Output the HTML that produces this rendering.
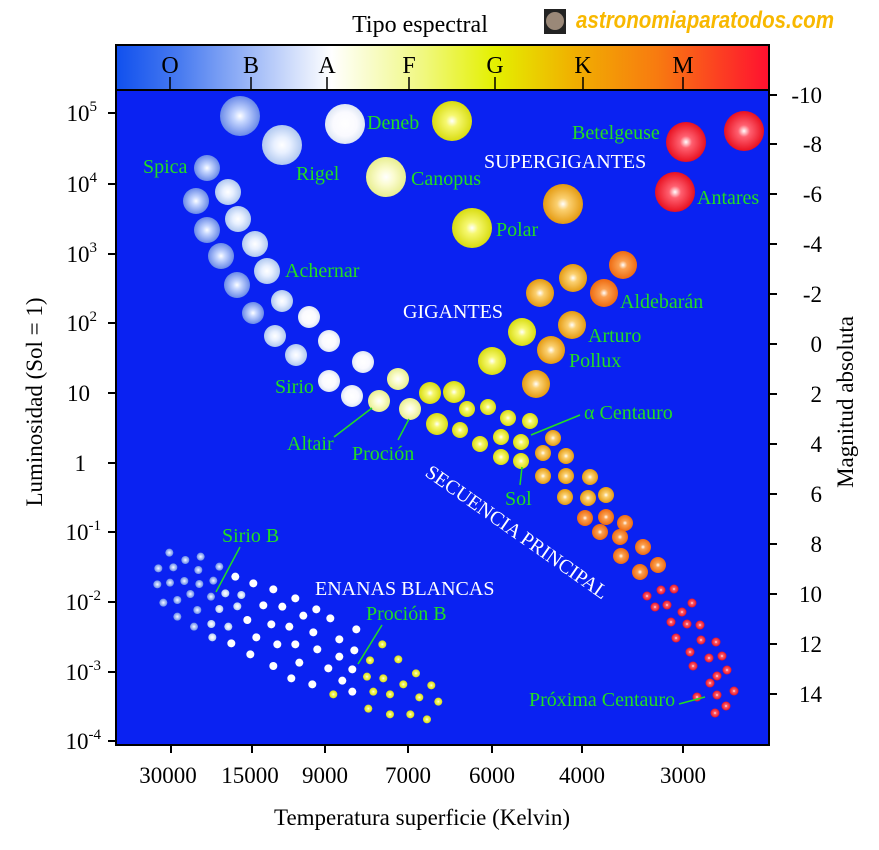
<!DOCTYPE html>
<html><head><meta charset="utf-8"><style>
body{margin:0;background:#fff;}
svg{display:block;font-family:"Liberation Serif",serif;}
.g{fill:#22dd22;font-size:20px;}
.w{fill:#fff;font-size:20px;}
.t{fill:#000;}
</style></head><body>
<svg width="879" height="850" viewBox="0 0 879 850" xmlns="http://www.w3.org/2000/svg">
<defs>
<linearGradient id="spec" x1="0" x2="1" y1="0" y2="0">
<stop offset="0" stop-color="#1050ee"/><stop offset="0.1" stop-color="#4a7cf0"/>
<stop offset="0.33" stop-color="#ffffff"/><stop offset="0.47" stop-color="#f0f880"/>
<stop offset="0.58" stop-color="#e4f000"/><stop offset="0.7" stop-color="#f0b000"/>
<stop offset="0.83" stop-color="#f87a10"/><stop offset="1" stop-color="#ff1030"/>
</linearGradient>
<radialGradient id="b" cx="0.5" cy="0.5" r="0.5"><stop offset="0" stop-color="#fff"/><stop offset="0.3" stop-color="#c8d8ff"/><stop offset="1" stop-color="#6a8ae8"/></radialGradient>
<radialGradient id="bw" cx="0.5" cy="0.5" r="0.5"><stop offset="0" stop-color="#fff"/><stop offset="0.4" stop-color="#e8f0ff"/><stop offset="1" stop-color="#b0c8f0"/></radialGradient>
<radialGradient id="w" cx="0.5" cy="0.5" r="0.5"><stop offset="0" stop-color="#fff"/><stop offset="0.6" stop-color="#fafaff"/><stop offset="1" stop-color="#dde6f4"/></radialGradient>
<radialGradient id="py" cx="0.5" cy="0.5" r="0.5"><stop offset="0" stop-color="#fff"/><stop offset="0.4" stop-color="#fbfcd0"/><stop offset="1" stop-color="#e8ee90"/></radialGradient>
<radialGradient id="y" cx="0.5" cy="0.5" r="0.5"><stop offset="0" stop-color="#fff"/><stop offset="0.3" stop-color="#f6f870"/><stop offset="1" stop-color="#d8dc10"/></radialGradient>
<radialGradient id="o" cx="0.5" cy="0.5" r="0.5"><stop offset="0" stop-color="#fff"/><stop offset="0.3" stop-color="#fbd070"/><stop offset="1" stop-color="#e49a10"/></radialGradient>
<radialGradient id="or" cx="0.5" cy="0.5" r="0.5"><stop offset="0" stop-color="#fff"/><stop offset="0.3" stop-color="#fba050"/><stop offset="1" stop-color="#ee6a10"/></radialGradient>
<radialGradient id="r" cx="0.5" cy="0.5" r="0.5"><stop offset="0" stop-color="#fff"/><stop offset="0.3" stop-color="#ff6070"/><stop offset="1" stop-color="#e81020"/></radialGradient>
</defs>
<text x="420" y="32" class="t" text-anchor="middle" font-size="24">Tipo espectral</text>
<rect x="544" y="9" width="22" height="25" fill="#222"/><circle cx="555" cy="21" r="9" fill="#9a8878"/>
<text x="576" y="28" fill="#f8b800" font-size="24" font-style="italic" font-weight="bold" font-family="Liberation Sans,sans-serif" textLength="258" lengthAdjust="spacingAndGlyphs">astronomiaparatodos.com</text>
<rect x="116" y="45" width="653" height="45" fill="url(#spec)" stroke="#000" stroke-width="2"/>
<g class="t" text-anchor="middle" font-size="24">
<text x="170" y="73">O</text><text x="251" y="73">B</text><text x="327" y="73">A</text><text x="409" y="73">F</text><text x="495" y="73">G</text><text x="583" y="73">K</text><text x="683" y="73">M</text></g>
<g stroke="#000" stroke-width="1.5"><path d="M170 90v-13M251 90v-13M327 90v-13M409 90v-13M495 90v-13M583 90v-13M683 90v-13"/></g>
<rect x="116" y="90" width="653" height="655" fill="#0a22f2" stroke="#000" stroke-width="2"/>
<g stroke="#000" stroke-width="2">
<path d="M108 113h8M108 184h8M108 254h8M108 323h8M108 393h8M108 463h8M108 532h8M108 602h8M108 672h8M108 741h8"/>
<path d="M769 95h8M769 144h8M769 194h8M769 244h8M769 294h8M769 344h8M769 394h8M769 444h8M769 494h8M769 544h8M769 594h8M769 644h8M769 694h8"/>
<path d="M171 745v8M252 745v8M325 745v8M408 745v8M492 745v8M582 745v8M683 745v8"/>
</g>
<g class="t" font-size="23" text-anchor="end">
<text x="97" y="121">10<tspan dy="-10" font-size="15">5</tspan></text>
<text x="97" y="192">10<tspan dy="-10" font-size="15">4</tspan></text>
<text x="97" y="262">10<tspan dy="-10" font-size="15">3</tspan></text>
<text x="97" y="331">10<tspan dy="-10" font-size="15">2</tspan></text>
<text x="90" y="401">10</text>
<text x="86" y="471">1</text>
<text x="101" y="540">10<tspan dy="-10" font-size="15">-1</tspan></text>
<text x="101" y="610">10<tspan dy="-10" font-size="15">-2</tspan></text>
<text x="101" y="680">10<tspan dy="-10" font-size="15">-3</tspan></text>
<text x="101" y="749">10<tspan dy="-10" font-size="15">-4</tspan></text>
</g>
<g class="t" font-size="23" text-anchor="end">
<text x="822" y="103">-10</text><text x="822" y="152">-8</text><text x="822" y="202">-6</text><text x="822" y="252">-4</text><text x="822" y="302">-2</text><text x="822" y="352">0</text><text x="822" y="402">2</text><text x="822" y="452">4</text><text x="822" y="502">6</text><text x="822" y="552">8</text><text x="822" y="602">10</text><text x="822" y="652">12</text><text x="822" y="702">14</text>
</g>
<g class="t" font-size="23" text-anchor="middle">
<text x="168" y="783">30000</text><text x="250" y="783">15000</text><text x="325" y="783">9000</text><text x="408" y="783">7000</text><text x="492" y="783">6000</text><text x="582" y="783">4000</text><text x="683" y="783">3000</text>
<text x="422" y="825">Temperatura superficie (Kelvin)</text>
</g>
<text class="t" font-size="23" transform="translate(42,402) rotate(-90)" text-anchor="middle">Luminosidad (Sol = 1)</text>
<text class="t" font-size="23" transform="translate(853,402) rotate(-90)" text-anchor="middle">Magnitud absoluta</text>
<circle cx="240" cy="116" r="20" fill="url(#b)"/>
<circle cx="282" cy="145" r="20" fill="url(#bw)"/>
<circle cx="345" cy="124" r="20" fill="url(#w)"/>
<circle cx="386" cy="177" r="20" fill="url(#py)"/>
<circle cx="452" cy="121" r="20" fill="url(#y)"/>
<circle cx="472" cy="228" r="20" fill="url(#y)"/>
<circle cx="563" cy="204" r="20" fill="url(#o)"/>
<circle cx="686" cy="142" r="20" fill="url(#r)"/>
<circle cx="675" cy="192" r="20" fill="url(#r)"/>
<circle cx="744" cy="131" r="20" fill="url(#r)"/>
<g>
<circle cx="623" cy="265" r="14" fill="url(#or)"/><circle cx="573" cy="278" r="14" fill="url(#o)"/><circle cx="540" cy="293" r="14" fill="url(#o)"/><circle cx="604" cy="293" r="14" fill="url(#or)"/><circle cx="572" cy="325" r="14" fill="url(#o)"/><circle cx="522" cy="332" r="14" fill="url(#y)"/><circle cx="551" cy="350" r="14" fill="url(#o)"/><circle cx="492" cy="361" r="14" fill="url(#y)"/><circle cx="536" cy="384" r="14" fill="url(#o)"/>
</g>
<g>
<circle cx="207" cy="168" r="13" fill="url(#b)"/><circle cx="228" cy="192" r="13" fill="url(#bw)"/><circle cx="196" cy="201" r="13" fill="url(#b)"/><circle cx="238" cy="219" r="13" fill="url(#bw)"/><circle cx="207" cy="230" r="13" fill="url(#b)"/><circle cx="255" cy="244" r="13" fill="url(#bw)"/><circle cx="221" cy="256" r="13" fill="url(#b)"/><circle cx="267" cy="271" r="13" fill="url(#bw)"/><circle cx="237" cy="285" r="13" fill="url(#b)"/>
<circle cx="282" cy="301" r="11" fill="url(#bw)"/><circle cx="253" cy="313" r="11" fill="url(#b)"/><circle cx="309" cy="317" r="11" fill="url(#w)"/><circle cx="275" cy="336" r="11" fill="url(#bw)"/><circle cx="329" cy="341" r="11" fill="url(#w)"/><circle cx="296" cy="355" r="11" fill="url(#bw)"/><circle cx="363" cy="362" r="11" fill="url(#w)"/><circle cx="329" cy="381" r="11" fill="url(#w)"/><circle cx="398" cy="379" r="11" fill="url(#py)"/><circle cx="352" cy="396" r="11" fill="url(#w)"/><circle cx="379" cy="401" r="11" fill="url(#py)"/><circle cx="430" cy="393" r="11" fill="url(#y)"/><circle cx="454" cy="392" r="11" fill="url(#y)"/><circle cx="410" cy="409" r="11" fill="url(#py)"/><circle cx="437" cy="424" r="11" fill="url(#y)"/>
<circle cx="467" cy="409" r="8" fill="url(#y)"/><circle cx="488" cy="407" r="8" fill="url(#y)"/><circle cx="460" cy="430" r="8" fill="url(#y)"/><circle cx="508" cy="418" r="8" fill="url(#y)"/><circle cx="530" cy="421" r="8" fill="url(#y)"/><circle cx="480" cy="444" r="8" fill="url(#y)"/><circle cx="501" cy="437" r="8" fill="url(#y)"/><circle cx="521" cy="442" r="8" fill="url(#y)"/><circle cx="553" cy="438" r="8" fill="url(#o)"/><circle cx="501" cy="457" r="8" fill="url(#y)"/><circle cx="521" cy="461" r="8" fill="url(#y)"/><circle cx="543" cy="453" r="8" fill="url(#o)"/><circle cx="566" cy="456" r="8" fill="url(#o)"/><circle cx="543" cy="476" r="8" fill="url(#o)"/><circle cx="566" cy="476" r="8" fill="url(#o)"/><circle cx="590" cy="477" r="8" fill="url(#o)"/><circle cx="565" cy="497" r="8" fill="url(#o)"/><circle cx="588" cy="498" r="8" fill="url(#o)"/><circle cx="606" cy="495" r="8" fill="url(#o)"/><circle cx="585" cy="518" r="8" fill="url(#or)"/><circle cx="606" cy="517" r="8" fill="url(#or)"/><circle cx="625" cy="523" r="8" fill="url(#or)"/><circle cx="600" cy="532" r="8" fill="url(#or)"/><circle cx="620" cy="537" r="8" fill="url(#or)"/><circle cx="643" cy="547" r="8" fill="url(#or)"/><circle cx="621" cy="556" r="8" fill="url(#or)"/><circle cx="658" cy="565" r="8" fill="url(#or)"/><circle cx="640" cy="572" r="8" fill="url(#or)"/>
<g fill="url(#r)">
<circle cx="647" cy="596" r="4.5"/><circle cx="661" cy="590" r="4.5"/><circle cx="674" cy="589" r="4.5"/><circle cx="655" cy="607" r="4.5"/><circle cx="667" cy="605" r="4.5"/><circle cx="682" cy="612" r="4.5"/><circle cx="692" cy="603" r="4.5"/><circle cx="671" cy="622" r="4.5"/><circle cx="687" cy="624" r="4.5"/><circle cx="700" cy="625" r="4.5"/><circle cx="676" cy="638" r="4.5"/><circle cx="701" cy="640" r="4.5"/><circle cx="716" cy="642" r="4.5"/><circle cx="690" cy="652" r="4.5"/><circle cx="709" cy="658" r="4.5"/><circle cx="722" cy="656" r="4.5"/><circle cx="693" cy="666" r="4.5"/><circle cx="717" cy="676" r="4.5"/><circle cx="727" cy="670" r="4.5"/><circle cx="710" cy="683" r="4.5"/><circle cx="734" cy="691" r="4.5"/><circle cx="697" cy="697" r="4.5"/><circle cx="717" cy="695" r="4.5"/><circle cx="726" cy="706" r="4.5"/><circle cx="715" cy="713" r="4.5"/>
</g></g>
<g transform="translate(140,530) scale(0.3333)">
<g fill="url(#b)">
<circle cx="88" cy="68" r="12"/><circle cx="182" cy="80" r="12"/><circle cx="136" cy="90" r="12"/><circle cx="55" cy="115" r="12"/><circle cx="100" cy="112" r="12"/><circle cx="175" cy="120" r="12"/><circle cx="238" cy="110" r="12"/><circle cx="52" cy="163" r="12"/><circle cx="90" cy="158" r="12"/><circle cx="133" cy="153" r="12"/><circle cx="178" cy="162" r="12"/><circle cx="220" cy="152" r="12"/><circle cx="151" cy="192" r="12"/><circle cx="213" cy="200" r="12"/><circle cx="70" cy="218" r="12"/><circle cx="112" cy="210" r="12"/><circle cx="172" cy="240" r="12"/><circle cx="112" cy="260" r="12"/><circle cx="162" cy="290" r="12"/></g>
<g fill="url(#bw)"><circle cx="256" cy="190" r="12"/><circle cx="304" cy="195" r="12"/><circle cx="238" cy="237" r="12"/><circle cx="292" cy="229" r="12"/><circle cx="214" cy="282" r="12"/><circle cx="265" cy="290" r="12"/><circle cx="217" cy="322" r="12"/></g>
<g fill="#fff">
<circle cx="286" cy="140" r="12"/><circle cx="340" cy="160" r="12"/><circle cx="400" cy="178" r="12"/><circle cx="370" cy="226" r="12"/><circle cx="427" cy="230" r="12"/><circle cx="466" cy="205" r="12"/><circle cx="490" cy="257" r="12"/><circle cx="529" cy="238" r="12"/><circle cx="571" cy="265" r="12"/><circle cx="322" cy="270" r="12"/><circle cx="394" cy="283" r="12"/><circle cx="448" cy="290" r="12"/><circle cx="520" cy="307" r="12"/><circle cx="649" cy="298" r="12"/><circle cx="349" cy="322" r="12"/><circle cx="412" cy="343" r="12"/><circle cx="466" cy="343" r="12"/><circle cx="598" cy="328" r="12"/><circle cx="274" cy="340" r="12"/><circle cx="331" cy="373" r="12"/><circle cx="532" cy="358" r="12"/><circle cx="598" cy="380" r="12"/><circle cx="643" cy="361" r="12"/><circle cx="400" cy="408" r="12"/><circle cx="478" cy="398" r="12"/><circle cx="565" cy="415" r="12"/><circle cx="637" cy="418" r="12"/><circle cx="454" cy="445" r="12"/><circle cx="517" cy="463" r="12"/><circle cx="607" cy="452" r="12"/><circle cx="637" cy="485" r="12"/></g>
<g fill="url(#y)">
<circle cx="727" cy="343" r="12"/><circle cx="690" cy="391" r="12"/><circle cx="775" cy="388" r="12"/><circle cx="681" cy="440" r="12"/><circle cx="730" cy="445" r="12"/><circle cx="828" cy="430" r="12"/><circle cx="790" cy="463" r="12"/><circle cx="874" cy="466" r="12"/><circle cx="700" cy="485" r="12"/><circle cx="750" cy="493" r="12"/><circle cx="838" cy="502" r="12"/><circle cx="895" cy="515" r="12"/><circle cx="580" cy="493" r="12"/><circle cx="685" cy="536" r="12"/><circle cx="750" cy="553" r="12"/><circle cx="811" cy="553" r="12"/><circle cx="861" cy="568" r="12"/></g>
</g>
<g stroke="#22dd22" stroke-width="1.5" fill="none">
<path d="M216 592L240 547"/><path d="M358 664L382 625"/><path d="M334 437L372 408"/><path d="M398 440L409 419"/><path d="M520 485L522 467"/><path d="M531 435L580 415"/><path d="M679 704L705 697"/>
</g>
<text class="g" x="367" y="129">Deneb</text>
<text class="g" x="296" y="180">Rigel</text>
<text class="g" x="143" y="173">Spica</text>
<text class="g" x="411" y="185">Canopus</text>
<text class="g" x="496" y="236">Polar</text>
<text class="g" x="572" y="139">Betelgeuse</text>
<text class="g" x="697" y="204">Antares</text>
<text class="g" x="285" y="277">Achernar</text>
<text class="g" x="620" y="308">Aldebarán</text>
<text class="g" x="588" y="342">Arturo</text>
<text class="g" x="569" y="367">Pollux</text>
<text class="g" x="275" y="393">Sirio</text>
<text class="g" x="287" y="450">Altair</text>
<text class="g" x="352" y="460">Proción</text>
<text class="g" x="505" y="505">Sol</text>
<text class="g" x="584" y="419">α  Centauro</text>
<text class="g" x="222" y="542">Sirio B</text>
<text class="g" x="366" y="620">Proción B</text>
<text class="g" x="529" y="706">Próxima Centauro</text>
<text class="w" x="484" y="168">SUPERGIGANTES</text>
<text class="w" x="403" y="318">GIGANTES</text>
<text class="w" x="315" y="595">ENANAS BLANCAS</text>
<text class="w" transform="translate(424,475) rotate(35)">SECUENCIA PRINCIPAL</text>
</svg>
</body></html>
